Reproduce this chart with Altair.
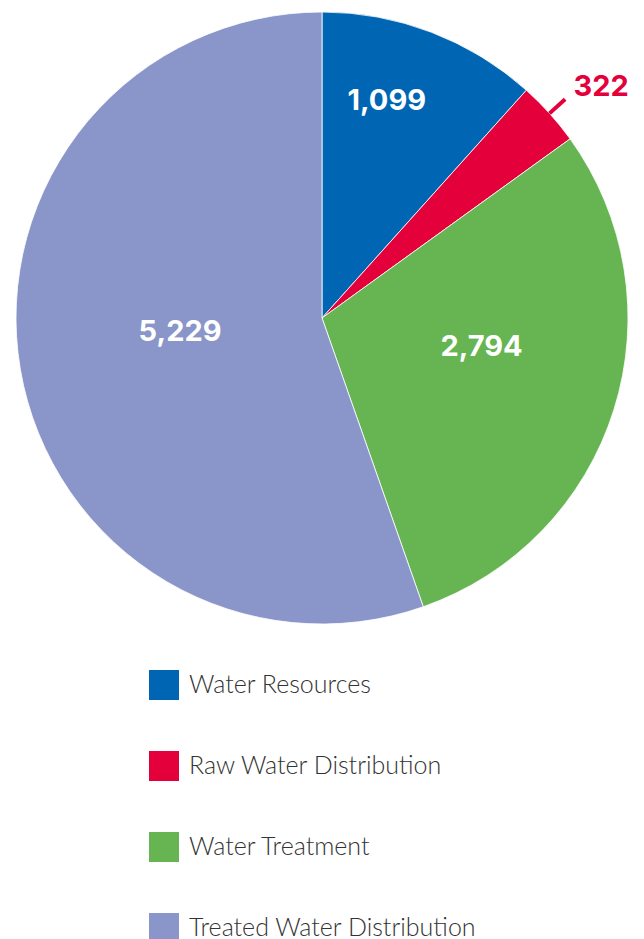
import altair as alt
import pandas as pd

categories = ["Water Resources", "Raw Water Distribution", "Water Treatment", "Treated Water Distribution"]
values = [1099, 322, 2794, 5229]
value_labels = ["1,099", "322", "2,794", "5,229"]
colors = ["#0066B3", "#E4003B", "#66B552", "#8A95C9"]

df = pd.DataFrame({"category": categories, "value": values, "label": value_labels, "idx": list(range(len(categories)))})

CX, CY, R = 314, 310, 306

base = alt.Chart(df)

color = alt.Color(
    "category:N",
    scale=alt.Scale(domain=categories, range=colors),
    sort=categories,
    legend=alt.Legend(
        title=None, orient="none", legendX=141, legendY=662,
        symbolType="square", symbolSize=900, symbolStrokeWidth=0, symbolOpacity=1,
        labelFont="Lato", labelFontSize=25, labelFontWeight=300, labelColor="#333333",
        labelOffset=10, rowPadding=51, padding=0, labelLimit=400,
    ),
)

pie = base.mark_arc(outerRadius=R, stroke="white", strokeWidth=0.8).encode(
    theta=alt.Theta("value:Q", stack=True),
    order=alt.Order("idx:Q"),
    color=color,
    x=alt.value(CX),
    y=alt.value(CY),
)

pos = base.transform_joinaggregate(total="sum(value)").transform_window(
    cum="sum(value)", sort=[alt.SortField("idx")], frame=[None, 0]
).transform_calculate(mid="(datum.cum - datum.value/2)/datum.total*2*PI")


def label(cat, r, dx, dy, col, size):
    return pos.transform_filter(alt.datum.category == cat).transform_calculate(
        px=f"{CX} + {r}*sin(datum.mid)", py=f"{CY} - {r}*cos(datum.mid)"
    ).mark_text(
        font="Inter", fontWeight="bold", fontSize=size, color=col, dx=dx, dy=dy,
        align="center", baseline="middle",
    ).encode(
        x=alt.X("px:Q", scale=None), y=alt.Y("py:Q", scale=None), text="label:N"
    )


tick = pos.transform_filter(alt.datum.category == categories[1]).transform_calculate(
    x1=f"{CX} + {R}*sin(datum.mid)", y1=f"{CY} - {R}*cos(datum.mid)",
    x2=f"{CX} + {R + 21}*sin(datum.mid)", y2=f"{CY} - {R + 21}*cos(datum.mid)",
).mark_rule(color=colors[1], strokeWidth=4).encode(
    x=alt.X("x1:Q", scale=None), y=alt.Y("y1:Q", scale=None),
    x2="x2:Q", y2="y2:Q",
)

chart = alt.layer(
    pie,
    tick,
    label(categories[0], 226, -16, -6, "white", 29),
    label(categories[1], 362, 10, 11, colors[1], 29),
    label(categories[2], 162, 5, -20, "white", 29),
    label(categories[3], 143, -1, -10, "white", 29),
).properties(
    width=628, height=931, autosize=alt.AutoSizeParams(type="none"), padding=0
).configure_view(stroke=None)

chart.save("out.html", embed_options={"renderer": "svg", "actions": False})
